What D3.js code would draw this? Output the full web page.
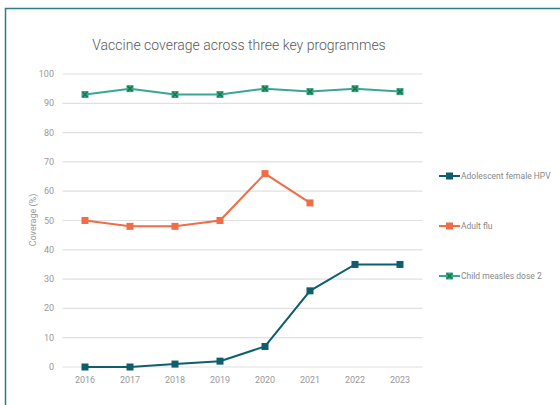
<!DOCTYPE html>
<meta charset="utf-8">
<script src="https://d3js.org/d3.v7.min.js"></script>
<style>
  body { margin: 0; background: #fff; font-family: Roboto, sans-serif; }
</style>
<div id="chart"></div>
<script>
// chart data
var years = ["2016", "2017", "2018", "2019", "2020", "2021", "2022", "2023"];
var hpv = [0, 0, 1, 2, 7, 26, 35, 35];
var flu = [50, 48, 48, 50, 66, 56];
var measles = [93, 95, 93, 93, 95, 94, 95, 94];
var yTicks = [0, 10, 20, 30, 40, 50, 60, 70, 80, 90, 100];
var seriesNames = ["Adolescent female HPV", "Adult flu", "Child measles dose 2"];

var colors = {
  hpv: "#0e5f6b",
  flu: "#ef6d47",
  measles: "#3aa596",
  cross: "#1b7a3c",
  grid: "#e0e0e0",
  text: "#999"
};

var W = 560, H = 405;
var svg = d3.select("#chart").append("svg")
  .attr("width", W).attr("height", H);

// frame (only top and left visible)
svg.append("path")
  .attr("d", "M5.5," + H + "V8.5H" + W)
  .attr("fill", "none")
  .attr("stroke", "#2a7f80")
  .attr("stroke-width", 1.5);

svg.append("text")
  .attr("x", 239).attr("y", 50)
  .attr("text-anchor", "middle")
  .attr("font-size", 14)
  .attr("font-weight", 300)
  .attr("fill", "#595959")
  .text("Vaccine coverage across three key programmes");

var x = d3.scaleBand().domain(years).range([62.5, 422.5]);
var y = d3.scaleLinear().domain([0, 100]).range([367, 74]);

// grid
svg.append("g").selectAll("line")
  .data(yTicks)
  .join("line")
  .attr("x1", 62.5).attr("x2", 422.5)
  .attr("y1", function(d) { return y(d); })
  .attr("y2", function(d) { return y(d); })
  .attr("stroke", colors.grid)
  .attr("stroke-width", 1.2);

// y tick labels
svg.append("g").selectAll("text")
  .data(yTicks)
  .join("text")
  .attr("x", 54).attr("y", function(d) { return y(d) + 3; })
  .attr("text-anchor", "end")
  .attr("font-size", 9)
  .attr("fill", colors.text)
  .text(function(d) { return d; });

// x tick labels
svg.append("g").selectAll("text")
  .data(years)
  .join("text")
  .attr("x", function(d) { return x(d) + x.bandwidth() / 2; })
  .attr("y", 383)
  .attr("text-anchor", "middle")
  .attr("font-size", 9)
  .attr("fill", colors.text)
  .text(function(d) { return d; });

svg.append("text")
  .attr("transform", "translate(36,220) rotate(-90)")
  .attr("text-anchor", "middle")
  .attr("font-size", 9)
  .attr("fill", colors.text)
  .text("Coverage (%)");

var line = d3.line()
  .x(function(d, i) { return x(years[i]) + x.bandwidth() / 2; })
  .y(function(d) { return y(d); });

function drawMarker(g, cx, cy, key) {
  if (key === "measles") {
    g.append("rect").attr("x", cx - 3.5).attr("y", cy - 3.5)
      .attr("width", 7).attr("height", 7).attr("fill", colors.measles);
    g.append("path")
      .attr("d", "M" + (cx - 2.5) + "," + (cy - 2.5) + "L" + (cx + 2.5) + "," + (cy + 2.5) +
                 "M" + (cx - 2.5) + "," + (cy + 2.5) + "L" + (cx + 2.5) + "," + (cy - 2.5))
      .attr("stroke", colors.cross).attr("stroke-width", 1.6);
  } else {
    g.append("rect").attr("x", cx - 3.5).attr("y", cy - 3.5)
      .attr("width", 7).attr("height", 7).attr("fill", colors[key]);
  }
}

var series = [
  { key: "hpv", values: hpv },
  { key: "flu", values: flu },
  { key: "measles", values: measles }
];

series.forEach(function(s) {
  var g = svg.append("g");
  g.append("path")
    .datum(s.values)
    .attr("d", line)
    .attr("fill", "none")
    .attr("stroke", colors[s.key])
    .attr("stroke-width", 2);
  s.values.forEach(function(v, i) {
    drawMarker(g, x(years[i]) + x.bandwidth() / 2, y(v), s.key);
  });
});

// legend
var legendY = [176, 226, 276];
series.forEach(function(s, i) {
  var g = svg.append("g");
  g.append("line")
    .attr("x1", 439).attr("x2", 460)
    .attr("y1", legendY[i]).attr("y2", legendY[i])
    .attr("stroke", colors[s.key]).attr("stroke-width", 2);
  drawMarker(g, 449.5, legendY[i], s.key);
  g.append("text")
    .attr("x", 461).attr("y", legendY[i] + 3)
    .attr("font-size", 8.5)
    .attr("fill", "#888")
    .text(seriesNames[i]);
});
</script>
